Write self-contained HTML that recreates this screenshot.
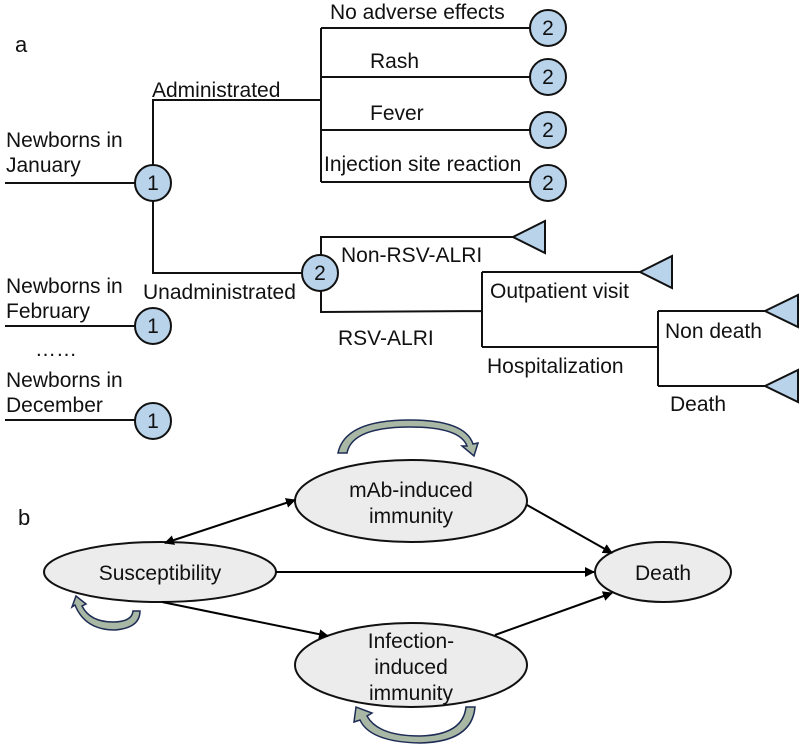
<!DOCTYPE html>
<html><head><meta charset="utf-8"><style>
body{margin:0;background:#fff}
svg{display:block}
text{font-family:"Liberation Sans",Arial,sans-serif;font-size:21px;fill:#111}
</style></head><body>
<svg width="800" height="745" viewBox="0 0 800 745" xmlns="http://www.w3.org/2000/svg">
<defs>
<marker id="ah" markerWidth="10" markerHeight="10" refX="9" refY="5" orient="auto" markerUnits="userSpaceOnUse" viewBox="0 0 10 10"><path d="M0,0 L10,5 L0,10 z" fill="#000"/></marker>
<marker id="ahs" markerWidth="10" markerHeight="10" refX="1" refY="5" orient="auto" markerUnits="userSpaceOnUse" viewBox="0 0 10 10"><path d="M10,0 L0,5 L10,10 z" fill="#000"/></marker>
</defs>
<g stroke="#111" stroke-width="2" fill="none">
<path d="M5,183H135 M153,165V100H321 M153,201V273H302 M321,28V182 M321,28H530 M321,77H530 M321,130H530 M321,182H530"/>
<path d="M5,326H135 M5,420H135"/>
<path d="M321,255V237H513 M321,291V312L482,311 M482,272V347 M482,272H640 M482,347H658 M658,311V386 M658,311H765 M658,386H765"/>
</g>
<g fill="#b9d3ea" stroke="#111" stroke-width="2">
<circle cx="153" cy="183" r="18"/><circle cx="153" cy="326" r="18"/><circle cx="153" cy="421" r="18"/>
<circle cx="320" cy="273" r="18"/>
<circle cx="548" cy="28" r="18"/><circle cx="548" cy="77" r="18"/><circle cx="548" cy="130" r="18"/><circle cx="548" cy="183" r="18"/>
<path d="M513,237L545,221V253Z M640,272L672,256V288Z M765,311L798,295V327Z M765,386L798,370V402Z"/>
</g>
<g text-anchor="middle" style="font-size:19px">
<text x="153" y="190">1</text><text x="153" y="333">1</text><text x="153" y="428">1</text><text x="320" y="280">2</text>
<text x="548" y="35">2</text><text x="548" y="84">2</text><text x="548" y="137">2</text><text x="548" y="190">2</text>
</g>
<text x="15" y="52" style="font-size:22px">a</text>
<text x="6" y="147">Newborns in</text><text x="6" y="172">January</text>
<text x="6" y="293">Newborns in</text><text x="6" y="318">February</text>
<text x="35" y="356">……</text>
<text x="6" y="387">Newborns in</text><text x="6" y="412">December</text>
<text x="152" y="97">Administrated</text>
<text x="143" y="299">Unadministrated</text>
<text x="330" y="19">No adverse effects</text>
<text x="370" y="68">Rash</text>
<text x="370" y="120">Fever</text>
<text x="324" y="171">Injection site reaction</text>
<text x="341" y="262">Non-RSV-ALRI</text>
<text x="490" y="298">Outpatient visit</text>
<text x="338" y="345">RSV-ALRI</text>
<text x="487" y="373">Hospitalization</text>
<text x="665" y="338">Non death</text>
<text x="670" y="411">Death</text>
<text x="18" y="525" style="font-size:22px">b</text>
<g fill="#ececec" stroke="#111" stroke-width="2">
<ellipse cx="411" cy="501" rx="116" ry="41"/>
<ellipse cx="160" cy="572" rx="116" ry="30"/>
<ellipse cx="663" cy="572" rx="68" ry="30"/>
<ellipse cx="411" cy="665" rx="116" ry="42"/>
</g>
<g stroke="#000" stroke-width="2" fill="none">
<line x1="165" y1="543" x2="295" y2="500" marker-start="url(#ahs)" marker-end="url(#ah)"/>
<line x1="527" y1="505" x2="612" y2="553" marker-end="url(#ah)"/>
<line x1="276" y1="572" x2="594" y2="572" marker-end="url(#ah)"/>
<line x1="162" y1="602" x2="328" y2="636" marker-end="url(#ah)"/>
<line x1="495" y1="635" x2="612" y2="593" marker-end="url(#ah)"/>
</g>
<g fill="#a9b8a4" stroke="#1d2b55" stroke-width="1.5">
<path d="M338,453 Q345,420 410,420 Q465,420 473,444 L478,443 L474,456 L462,446 L467,446 Q460,427 410,427 Q352,427 347,453Z"/>
<path d="M75,605 Q85,630 115,630 Q140,628 140,611 L133,611 Q132,622 113,622 Q90,622 82,606 L86,604 L76,596 L72,607Z"/>
<path d="M475,707 Q472,742 420,743 Q370,742 360,720 L354,722 L356,707 L372,713 L367,716 Q378,736 420,736 Q463,735 466,707Z"/>
</g>
<g text-anchor="middle" style="font-size:22px">
<text x="411" y="497">mAb-induced</text><text x="411" y="523">immunity</text>
<text x="160" y="580">Susceptibility</text>
<text x="663" y="580">Death</text>
<text x="411" y="648">Infection-</text><text x="411" y="674">induced</text><text x="411" y="700">immunity</text>
</g>
</svg>
</body></html>
